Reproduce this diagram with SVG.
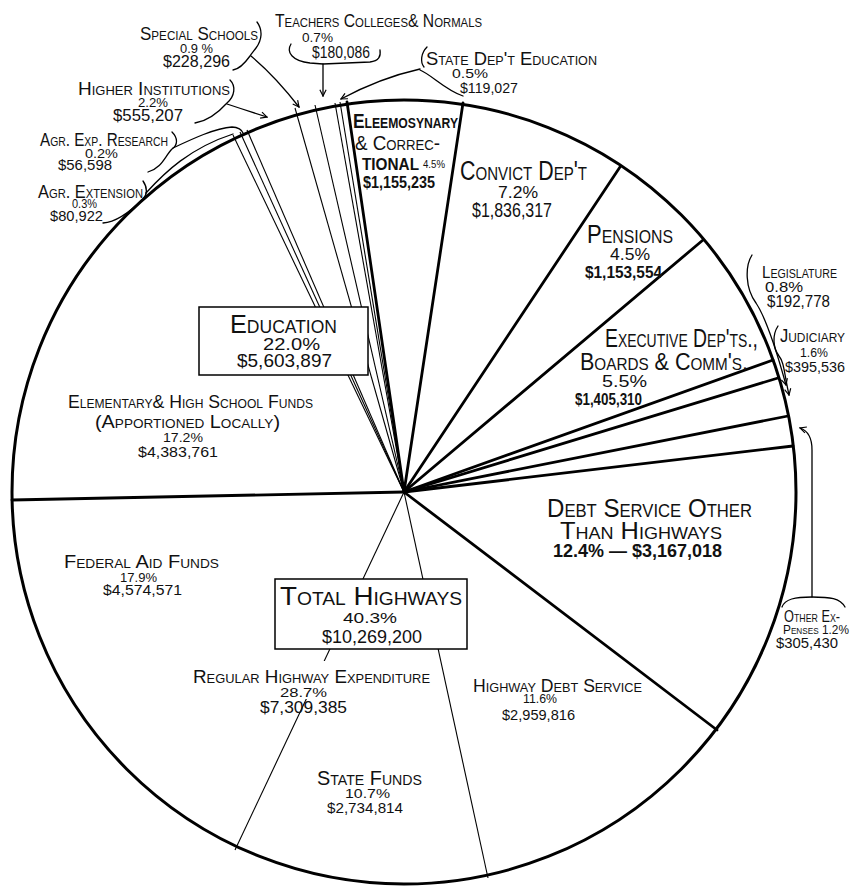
<svg xmlns="http://www.w3.org/2000/svg" width="855" height="888" viewBox="0 0 855 888">
<style>
text{font-family:"Liberation Sans",Arial,sans-serif;fill:#111;font-variant:small-caps}
.b{font-weight:bold}
.rim{fill:#fff;stroke:#000;stroke-width:3}
.thick{stroke:#000;stroke-width:2.8;fill:none;stroke-linecap:round}
.thin{stroke:#000;stroke-width:1.1;fill:none}
.lead{stroke:#000;stroke-width:1.3;fill:none;stroke-linecap:round}
.box{fill:#fff;stroke:#000;stroke-width:1.5}
</style>
<defs>
<marker id="arr" viewBox="0 0 10 10" refX="9" refY="5" markerWidth="6" markerHeight="6" orient="auto" markerUnits="strokeWidth">
<path d="M1,1 L9,5 L1,9" fill="none" stroke="#000" stroke-width="1.5"/>
</marker>
</defs>
<rect width="855" height="888" fill="#fff"/>
<g id="pie">
<circle class="rim" cx="404" cy="492" r="392"/>
</g>
<g id="slices">
<line class="thick" x1="404" y1="492" x2="12" y2="500"/>
<line class="thin" x1="404" y1="492" x2="233" y2="135"/>
<line class="thin" x1="404" y1="492" x2="240" y2="132"/>
<line class="thin" x1="404" y1="492" x2="247" y2="130"/>
<line class="thin" x1="404" y1="492" x2="295" y2="108"/>
<line class="thin" x1="404" y1="492" x2="315" y2="105"/>
<line class="thin" x1="404" y1="492" x2="335" y2="103"/>
<line class="thin" x1="404" y1="492" x2="340" y2="102"/>
<line class="thick" x1="404" y1="492" x2="347" y2="102"/>
<line class="thick" x1="404" y1="492" x2="463" y2="103"/>
<line class="thick" x1="404" y1="492" x2="620" y2="167"/>
<line class="thick" x1="404" y1="492" x2="703" y2="240"/>
<line class="thick" x1="404" y1="492" x2="773" y2="360"/>
<line class="thick" x1="404" y1="492" x2="778" y2="378"/>
<line class="thick" x1="404" y1="492" x2="788" y2="416"/>
<line class="thick" x1="404" y1="492" x2="793" y2="446"/>
<line class="thick" x1="404" y1="492" x2="717" y2="730"/>
<line class="thin" x1="404" y1="492" x2="488" y2="878"/>
<line class="thin" x1="404" y1="492" x2="235" y2="850"/>
<rect x="190" y="661" width="244" height="38" fill="#fff"/>
</g>
<g id="connectors">
<path class="lead" d="M257,22 C263,30 262,40 256,48 C253,52 251,54 250,56 C245,63 240,69 233,70"/>
<path class="lead" d="M251,56 Q275,76 299,107" marker-end="url(#arr)"/>
<path class="lead" d="M291,44 C286,52 292,61 310,63 L323,64 L370,62 C379,61 381,56 380,50"/>
<path class="lead" d="M323,64 L323,96" marker-end="url(#arr)"/>
<path class="lead" d="M427,47 C421,53 420,62 424,67"/>
<path class="lead" d="M420,69 Q380,78 341,99" marker-end="url(#arr)"/>
<path class="lead" d="M420,70 C432,75 445,90 463,96"/>
<path class="lead" d="M230,80 C236,86 235,96 227,103 C218,113 208,121 195,123"/>
<path class="lead" d="M227,104 Q245,110 267,117" marker-end="url(#arr)"/>
<path class="lead" d="M172,132 C178,138 178,145 172,149 C165,156 162,168 148,172"/>
<path class="lead" d="M173,148 C190,140 215,128 232,127 C238,127 242,130 243,133"/>
<path class="lead" d="M143,181 C148,188 147,195 143,199 C132,210 118,222 103,223"/>
<path class="lead" d="M146,193 C165,172 190,148 233,134"/>
<path class="lead" d="M752,255 C745,266 745,288 756,303 C766,318 775,345 786,385" marker-end="url(#arr)"/>
<path class="lead" d="M778,326 C772,335 773,348 779,356 C784,362 784,372 789,395" marker-end="url(#arr)"/>
<path class="lead" d="M782,607 C785,599 795,597 812,597 C830,597 840,598 845,607"/>
<path class="lead" d="M812,597 L812,450 Q812,432 800,428" marker-end="url(#arr)"/>
</g>
<g id="education">
<rect class="box" x="199" y="307" width="169" height="68"/>
<text><tspan x="230" y="333" font-size="26" textLength="107" lengthAdjust="spacingAndGlyphs">Education</tspan><tspan x="263" y="350" font-size="17" textLength="57" lengthAdjust="spacingAndGlyphs">22.0%</tspan><tspan x="237" y="367" font-size="19" textLength="95" lengthAdjust="spacingAndGlyphs">$5,603,897</tspan></text>
</g>
<g id="elementary">
<text><tspan x="68" y="408" font-size="19" textLength="245" lengthAdjust="spacingAndGlyphs">Elementary&amp; High School Funds</tspan><tspan x="95" y="428" font-size="19" textLength="185" lengthAdjust="spacingAndGlyphs">(Apportioned Locally)</tspan><tspan x="163" y="442" font-size="13" textLength="40" lengthAdjust="spacingAndGlyphs">17.2%</tspan><tspan x="138" y="457" font-size="15" textLength="80" lengthAdjust="spacingAndGlyphs">$4,383,761</tspan></text>
</g>
<g id="agr-extension">
<text><tspan x="38" y="198" font-size="19" textLength="105" lengthAdjust="spacingAndGlyphs">Agr. Extension</tspan><tspan x="72" y="208" font-size="12" textLength="25" lengthAdjust="spacingAndGlyphs">0.3%</tspan><tspan x="50" y="221" font-size="15" textLength="53" lengthAdjust="spacingAndGlyphs">$80,922</tspan></text>
</g>
<g id="agr-research">
<text><tspan x="40" y="146" font-size="19" textLength="128" lengthAdjust="spacingAndGlyphs">Agr. Exp. Research</tspan><tspan x="85" y="158" font-size="12" textLength="33" lengthAdjust="spacingAndGlyphs">0.2%</tspan><tspan x="58" y="170" font-size="14" textLength="54" lengthAdjust="spacingAndGlyphs">$56,598</tspan></text>
</g>
<g id="higher">
<text><tspan x="78" y="95" font-size="19" textLength="152" lengthAdjust="spacingAndGlyphs">Higher Institutions</tspan><tspan x="138" y="107" font-size="13" textLength="30" lengthAdjust="spacingAndGlyphs">2.2%</tspan><tspan x="113" y="121" font-size="17" textLength="70" lengthAdjust="spacingAndGlyphs">$555,207</tspan></text>
</g>
<g id="special">
<text><tspan x="140" y="40" font-size="19" textLength="118" lengthAdjust="spacingAndGlyphs">Special Schools</tspan><tspan x="180" y="53" font-size="13" textLength="33" lengthAdjust="spacingAndGlyphs">0.9 %</tspan><tspan x="163" y="67" font-size="16" textLength="67" lengthAdjust="spacingAndGlyphs">$228,296</tspan></text>
</g>
<g id="teachers">
<text><tspan x="275" y="27" font-size="18" textLength="207" lengthAdjust="spacingAndGlyphs">Teachers Colleges&amp; Normals</tspan><tspan x="302" y="42" font-size="13" textLength="31" lengthAdjust="spacingAndGlyphs">0.7%</tspan><tspan x="312" y="58" font-size="16" textLength="58" lengthAdjust="spacingAndGlyphs">$180,086</tspan></text>
</g>
<g id="state-dept">
<text><tspan x="426" y="65" font-size="19" textLength="171" lengthAdjust="spacingAndGlyphs">State Dep't Education</tspan><tspan x="452" y="78" font-size="13" textLength="36" lengthAdjust="spacingAndGlyphs">0.5%</tspan><tspan x="460" y="93" font-size="14" textLength="58" lengthAdjust="spacingAndGlyphs">$119,027</tspan></text>
</g>
<g id="eleemosynary">
<text><tspan class="b" x="353" y="128" font-size="20" textLength="105" lengthAdjust="spacingAndGlyphs">Eleemosynary</tspan><tspan x="355" y="150" font-size="20" textLength="85" lengthAdjust="spacingAndGlyphs">&amp; Correc-</tspan><tspan class="b" x="362" y="170" font-size="17" textLength="57" lengthAdjust="spacingAndGlyphs">TIONAL</tspan><tspan x="423" y="168" font-size="11" textLength="22" lengthAdjust="spacingAndGlyphs">4.5%</tspan><tspan class="b" x="363" y="188" font-size="17" textLength="72" lengthAdjust="spacingAndGlyphs">$1,155,235</tspan></text>
</g>
<g id="convict">
<text><tspan x="460" y="180" font-size="27" textLength="127" lengthAdjust="spacingAndGlyphs">Convict Dep't</tspan><tspan x="498" y="198" font-size="17" textLength="40" lengthAdjust="spacingAndGlyphs">7.2%</tspan><tspan x="472" y="217" font-size="20" textLength="80" lengthAdjust="spacingAndGlyphs">$1,836,317</tspan></text>
</g>
<g id="pensions">
<text><tspan x="587" y="243" font-size="25" textLength="86" lengthAdjust="spacingAndGlyphs">Pensions</tspan><tspan x="610" y="260" font-size="16" textLength="40" lengthAdjust="spacingAndGlyphs">4.5%</tspan><tspan class="b" x="585" y="278" font-size="17" textLength="77" lengthAdjust="spacingAndGlyphs">$1,153,554</tspan></text>
</g>
<g id="executive">
<text><tspan x="605" y="347" font-size="25" textLength="153" lengthAdjust="spacingAndGlyphs">Executive Dep'ts.,</tspan><tspan x="580" y="370" font-size="24" textLength="168" lengthAdjust="spacingAndGlyphs">Boards &amp; Comm's.</tspan><tspan x="602" y="387" font-size="16" textLength="45" lengthAdjust="spacingAndGlyphs">5.5%</tspan><tspan class="b" x="575" y="405" font-size="16" textLength="67" lengthAdjust="spacingAndGlyphs">$1,405,310</tspan></text>
</g>
<g id="legislature">
<text><tspan x="762" y="278" font-size="17" textLength="75" lengthAdjust="spacingAndGlyphs">Legislature</tspan><tspan x="765" y="292" font-size="14" textLength="38" lengthAdjust="spacingAndGlyphs">0.8%</tspan><tspan x="767" y="307" font-size="16" textLength="63" lengthAdjust="spacingAndGlyphs">$192,778</tspan></text>
</g>
<g id="judiciary">
<text><tspan x="780" y="342" font-size="18" textLength="65" lengthAdjust="spacingAndGlyphs">Judiciary</tspan><tspan x="800" y="357" font-size="13" textLength="28" lengthAdjust="spacingAndGlyphs">1.6%</tspan><tspan x="785" y="372" font-size="15" textLength="60" lengthAdjust="spacingAndGlyphs">$395,536</tspan></text>
</g>
<g id="other-expenses">
<text><tspan x="784" y="622" font-size="16" textLength="56" lengthAdjust="spacingAndGlyphs">Other Ex-</tspan><tspan x="783" y="634" font-size="13" textLength="66" lengthAdjust="spacingAndGlyphs">Penses 1.2%</tspan><tspan x="776" y="648" font-size="14" textLength="62" lengthAdjust="spacingAndGlyphs">$305,430</tspan></text>
</g>
<g id="debt-service">
<text><tspan x="547" y="517" font-size="26" textLength="205" lengthAdjust="spacingAndGlyphs">Debt Service Other</tspan><tspan x="560" y="539" font-size="24" textLength="162" lengthAdjust="spacingAndGlyphs">Than Highways</tspan><tspan class="b" x="553" y="557" font-size="18" textLength="169" lengthAdjust="spacingAndGlyphs">12.4% — $3,167,018</tspan></text>
</g>
<g id="total-highways">
<rect class="box" x="275" y="579" width="192" height="70"/>
<text><tspan x="280" y="605" font-size="26" textLength="182" lengthAdjust="spacingAndGlyphs">Total Highways</tspan><tspan x="343" y="623" font-size="15" textLength="54" lengthAdjust="spacingAndGlyphs">40.3%</tspan><tspan x="322" y="643" font-size="19" textLength="100" lengthAdjust="spacingAndGlyphs">$10,269,200</tspan></text>
</g>
<g id="federal-aid">
<text><tspan x="64" y="568" font-size="19" textLength="155" lengthAdjust="spacingAndGlyphs">Federal Aid Funds</tspan><tspan x="120" y="582" font-size="13" textLength="37" lengthAdjust="spacingAndGlyphs">17.9%</tspan><tspan x="103" y="595" font-size="15" textLength="79" lengthAdjust="spacingAndGlyphs">$4,574,571</tspan></text>
</g>
<g id="regular-highway">
<text><tspan x="193" y="683" font-size="19" textLength="237" lengthAdjust="spacingAndGlyphs">Regular Highway Expenditure</tspan><tspan x="280" y="697" font-size="13" textLength="47" lengthAdjust="spacingAndGlyphs">28.7%</tspan><tspan x="260" y="713" font-size="16" textLength="87" lengthAdjust="spacingAndGlyphs">$7,309,385</tspan></text>
</g>
<g id="highway-debt">
<text><tspan x="473" y="692" font-size="18" textLength="169" lengthAdjust="spacingAndGlyphs">Highway Debt Service</tspan><tspan x="523" y="703" font-size="12" textLength="34" lengthAdjust="spacingAndGlyphs">11.6%</tspan><tspan x="502" y="720" font-size="15" textLength="73" lengthAdjust="spacingAndGlyphs">$2,959,816</tspan></text>
</g>
<g id="state-funds">
<text><tspan x="317" y="785" font-size="21" textLength="105" lengthAdjust="spacingAndGlyphs">State Funds</tspan><tspan x="345" y="798" font-size="13" textLength="45" lengthAdjust="spacingAndGlyphs">10.7%</tspan><tspan x="327" y="813" font-size="15" textLength="76" lengthAdjust="spacingAndGlyphs">$2,734,814</tspan></text>
</g>
</svg>
